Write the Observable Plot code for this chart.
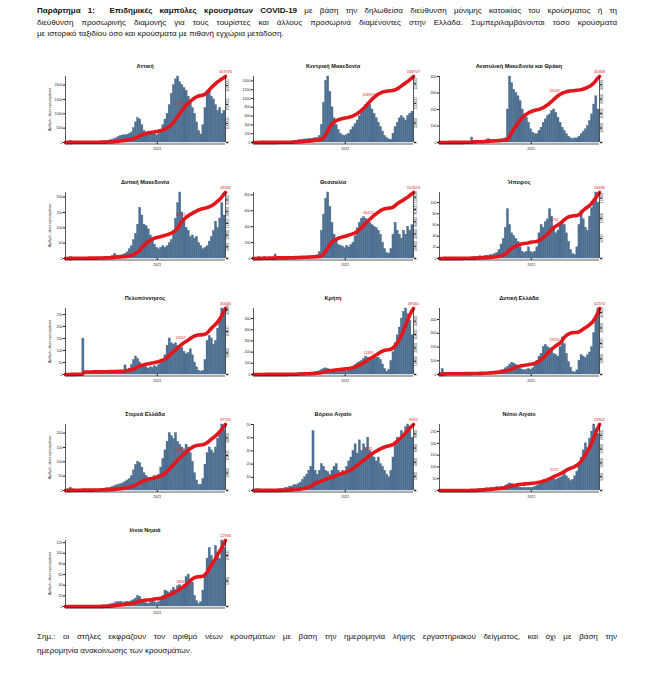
<!DOCTYPE html>
<html><head><meta charset="utf-8">
<script src="https://cdn.jsdelivr.net/npm/d3@7"></script>
<script src="https://cdn.jsdelivr.net/npm/@observablehq/plot@0.6"></script>
<style>
body{margin:0;background:#fff;}
#page{position:relative;width:656px;height:691px;overflow:hidden;background:#fff;font-family:"Liberation Sans",Arial,sans-serif;color:#111;}
.line{position:absolute;left:37px;width:580px;white-space:nowrap;text-align:justify;text-align-last:justify;}
.last{text-align:left;text-align-last:left;}
.ttl{position:absolute;width:160px;text-align:center;font-weight:bold;font-size:5.6px;line-height:8px;}
.pn{position:absolute;}
</style></head>
<body><div id="page">
<div class="line" style="top:5px;font-size:8px;line-height:11.5px"><b>Παράρτημα 1:&nbsp; Επιδημικές καμπύλες κρουσμάτων COVID-19</b> με βάση την δηλωθείσα διεύθυνση μόνιμης κατοικίας του κρούσματος ή τη</div>
<div class="line" style="top:16.5px;font-size:8px;line-height:11.5px">διεύθυνση προσωρινής διαμονής για τους τουρίστες και άλλους προσωρινά διαμένοντες στην Ελλάδα. Συμπεριλαμβάνονται τόσο κρούσματα</div>
<div class="line last" style="top:28px;font-size:8px;line-height:11.5px">με ιστορικό ταξιδίου όσο και κρούσματα με πιθανή εγχώρια μετάδοση.</div>
<div class="line" style="top:631px;font-size:8px;line-height:12px">Σημ.: οι στήλες εκφράζουν τον αριθμό νέων κρουσμάτων με βάση την ημερομηνία λήψης εργαστηριακού δείγματος, και όχι με βάση την</div>
<div class="line last" style="top:645px;font-size:8px;line-height:12px">ημερομηνία ανακοίνωσης των κρουσμάτων.</div>
</div>
<script>
// Weekly values: average daily new cases per week, weeks starting Monday 2020-03-02
const regions = ["Αττική","Κεντρική Μακεδονία","Ανατολική Μακεδονία και Θράκη","Δυτική Μακεδονία","Θεσσαλία","Ήπειρος","Πελοπόννησος","Κρήτη","Δυτική Ελλάδα","Στερεά Ελλάδα","Βόρειο Αιγαίο","Νότιο Αιγαίο","Ιόνια Νησιά"];

const attiki = [20,40,50,30, 15,10,8,5,5,5,5,5,8, 10,10,15,20,25,30,40, 60,80,100,120,150, 200,230,250,250,270, 300,350,500,700, 850,800,600, 400,350,380,330,300,350, 250,300, 450,600,800,1000, 1300,1700,2000,2200, 2300,2100,2000, 1900,1800,1600,1400,1200, 1000,700,400,280, 600,1200,1700,1800, 1600,1500,1300,1100,1200,1000,1100];
const kmak = [5,10,15,10, 8,5,3,2,2,2,2,3,3, 3,5,8,10,15,20,30, 40,50,60,60,70, 70,80,80,90,100, 100,150, 400,900,1400,1500,1150,800, 550,400,280,200,160,150,170,200, 280,350,420,500,600,700,750,850,900,850,750,650,550,450,350,250,150,100,70, 60,200,350,450,550,600,550,500,600,650,700];
const amth = [0,2,3,2, 2,2,1,1,1,1,1,2,2, 2,3,30,8,5,5,6, 8,10,15,20,15, 12,12,15,15,18, 20,25, 200,400,360,320,300,280, 250,200,170,150,120,80,60,50,50, 70,90,120,140,160,170,190,200,180,150,120,90,70,50,35,25,20,25, 25,35,50,65,80,100,130,170,230,280,200];
const dmak = [1,3,5,3, 2,1,1,1,1,1,1,1,1, 1,2,2,3,3,4,5, 5,6,8,15,10, 8,10,12,15,20, 30,40, 60,80,110,165,140,110, 105,95,75,60,45,35,30,35,40, 35,40,50,60,90,130,180,215,150,120,100,90,70,75,65,70,50,40, 30,35,40,55,70,90,120,100,130,180,140];
const thes = [5,10,20,10, 5,20,8,3,2,3,50,5,3, 3,4,5,8,10,12,15, 15,20,20,18,20, 20,25,25,35,30, 40,80, 350,550,750,830,650,450, 300,220,170,160,150,130,160,140,170, 200,280,380,450,500,520,500,480,450,420,400,380,350,300,200,120,70,60, 120,300,450,350,300,250,350,300,400,350,420];
const ipir = [0,1,2,1, 1,1,0,0,0,0,0,1,1, 1,1,2,2,3,3,4, 3,4,5,5,6, 6,8,10,15,25, 35,55, 88,60,45,40,35,30, 20,12,10,12,20,12,10,12,20, 45,60,55,65,70,88,75,55,45,50,60,66,60,45,30,15,8,6, 20,60,85,70,55,50,75,90,100,118,100];
const pel = [1,2,3,2, 2,2,2,2,150,2,1,1,1, 1,1,2,2,2,3,3, 3,4,4,5,5, 6,8,10,38,15, 25,40, 60,75,65,50,40,35, 30,25,30,28,35,30,40,50,60, 80,120,150,130,125,130,120,115,110,95,85,90,105,80,50,30,15,12, 15,60,140,160,150,125,140,190,230,275,250];
const kriti = [1,2,3,1, 1,1,1,1,0,0,0,1,1, 1,2,2,3,3,4,5, 6,8,10,10,8, 8,10,12,15,20, 25,30, 40,50,55,50,35,30, 25,20,22,25,30,28,25,40,60, 70,85,100,110,120,140,160,150,120,130,140,150,150,130,90,50,25,40, 120,200,280,350,420,500,560,590,540,480,350];
const dell = [10,40,10,5, 3,2,2,1,1,1,1,2,2, 2,3,3,4,5,5,6, 6,8,10,12,15, 15,18,20,25,30, 35,45, 55,70,85,80,70,55, 40,35,30,35,40,35,45,70,100, 130,150,200,215,200,190,170,150,140,130,200,270,220,150,90,50,20,15, 30,100,140,130,120,140,160,200,300,400,480];
const ster = [2,5,10,4, 2,2,1,1,1,1,1,2,2, 2,3,3,4,5,6,8, 8,10,12,15,18, 20,22,25,30,35, 40,50, 70,90,100,95,80,60, 50,45,40,45,50,45,55,80,110, 140,170,200,190,180,200,170,160,150,140,160,150,130,100,60,35,20,20, 40,90,130,150,140,130,150,180,200,230,210];
const bair = [0,1,1,0, 0,0,0,0,0,0,0,0,1, 1,1,2,2,3,3,4, 4,5,6,8,10, 12,15,18,45,15, 12,15, 20,18,15,14,12,15, 18,20,15,12,15,14,18,22,25, 30,35,28,38,30,35,32,40,30,28,25,22,25,20,18,15,12,10, 15,25,35,40,38,45,42,48,50,45,40];
const nair = [0,1,1,0, 0,0,0,0,0,0,0,0,0, 1,1,2,3,4,5,6, 6,8,10,8,10, 10,12,15,12,15, 15,20, 25,30,28,25,20,15, 12,10,12,10,12,10,12,15,20, 25,30,35,40,45,50,55,50,45,50,55,60,70,60,50,40,45,60, 80,110,140,170,200,180,220,250,280,260,240];
const ion = [0,0,1,0, 0,0,0,0,0,0,0,0,0, 0,0,1,1,1,2,2, 3,4,5,6,8, 8,9,7,8,9, 8,10, 12,15,20,18,12,8, 6,5,8,10,8,6,8,12,20, 30,28,25,30,35,30,38,40,35,40,55,60,50,45,20,10,5,8, 30,60,90,110,95,80,114,100,90,124,110];

const series = [attiki,kmak,amth,dmak,thes,ipir,pel,kriti,dell,ster,bair,nair,ion];
const yLabel = "Αριθμός νέων κρουσμάτων";
const xTickLabel = "2021";

const start = new Date(Date.UTC(2020,2,2));
const wk = i => d3.utcDay.offset(start, 7*i);
const x0 = wk(0), x1 = wk(76);
const jan = new Date(Date.UTC(2021,0,1));
const blue = "#4d6f91", red = "#e3161b";
const fmt = d3.format("d");
const cols = [65, 253, 439];
const page = document.getElementById("page");

series.forEach((vals, idx) => {
  const col = idx % 3, row = Math.floor(idx / 3);
  const L = cols[col], Z = 142 + 116*row;
  const bars = vals.map((v,i) => ({d0: wk(i), d1: wk(i+1), v}));
  let c = 0;
  const cum = [{date: wk(0), c: 0}];
  vals.forEach((v,i) => { c += v*7; cum.push({date: wk(i+1), c}); });
  const ymax = d3.max(vals);
  const k = ymax / c;
  const rt = d3.ticks(0, c, 4);
  const mid = cum[56];
  const chart = Plot.plot({
    width: 199, height: 98,
    marginLeft: 25, marginRight: 14, marginTop: 16, marginBottom: 16,
    style: {fontFamily: "Liberation Sans, Arial, sans-serif", background: "transparent", overflow: "visible", color: "#222"},
    x: {type: "utc", domain: [x0, x1]},
    y: {domain: [0, ymax]},
    marks: [
      Plot.rectY(bars, {x1: "d0", x2: "d1", y: "v", fill: blue, stroke: blue, strokeWidth: 0.4, inset: 0}),
      Plot.line(cum, {x: "date", y: d => d.c * k, stroke: red, strokeWidth: 3.6, strokeLinejoin: "round", strokeLinecap: "round"}),
      Plot.ruleX([x0], {stroke: "#111", strokeWidth: 0.7}),
      Plot.ruleX([x1], {stroke: "#111", strokeWidth: 0.7}),
      Plot.ruleY([0], {stroke: "#111", strokeWidth: 0.7, dy: 1.5}),
      Plot.axisY({anchor: "left", ticks: 5, tickFormat: fmt, tickSize: 2, tickPadding: 1, fontSize: 3.6,
        label: col === 0 ? yLabel : null, labelAnchor: "center", labelArrow: "none", labelOffset: 17}),
      Plot.axisY({anchor: "right", ticks: rt.map(t => t*k), tickFormat: t => fmt(Math.round(t/k)),
        tickSize: 2, tickPadding: 1.5, tickRotate: -90, fontSize: 3.6, label: null}),
      Plot.axisX({ticks: [jan], tickFormat: () => xTickLabel, tickSize: 2, tickPadding: 3, fontSize: 3.6, label: null}),
      Plot.text([cum[cum.length-1]], {x: "date", y: d => d.c*k, text: d => fmt(Math.round(d.c)), dy: -5, fill: red, fontSize: 4}),
      Plot.text([mid], {x: "date", y: d => d.c*k, text: d => fmt(Math.round(d.c)), dy: -5, dx: -3, fill: red, fontSize: 3.6})
    ]
  });
  const box = document.createElement("div");
  box.className = "pn";
  box.style.left = (L - 25) + "px";
  box.style.top = (Z - 82) + "px";
  box.appendChild(chart);
  page.appendChild(box);
  const t = document.createElement("div");
  t.className = "ttl";
  t.style.left = L + "px";
  t.style.top = (Z - 80) + "px";
  t.textContent = regions[idx];
  page.appendChild(t);
});
</script>
</body></html>
